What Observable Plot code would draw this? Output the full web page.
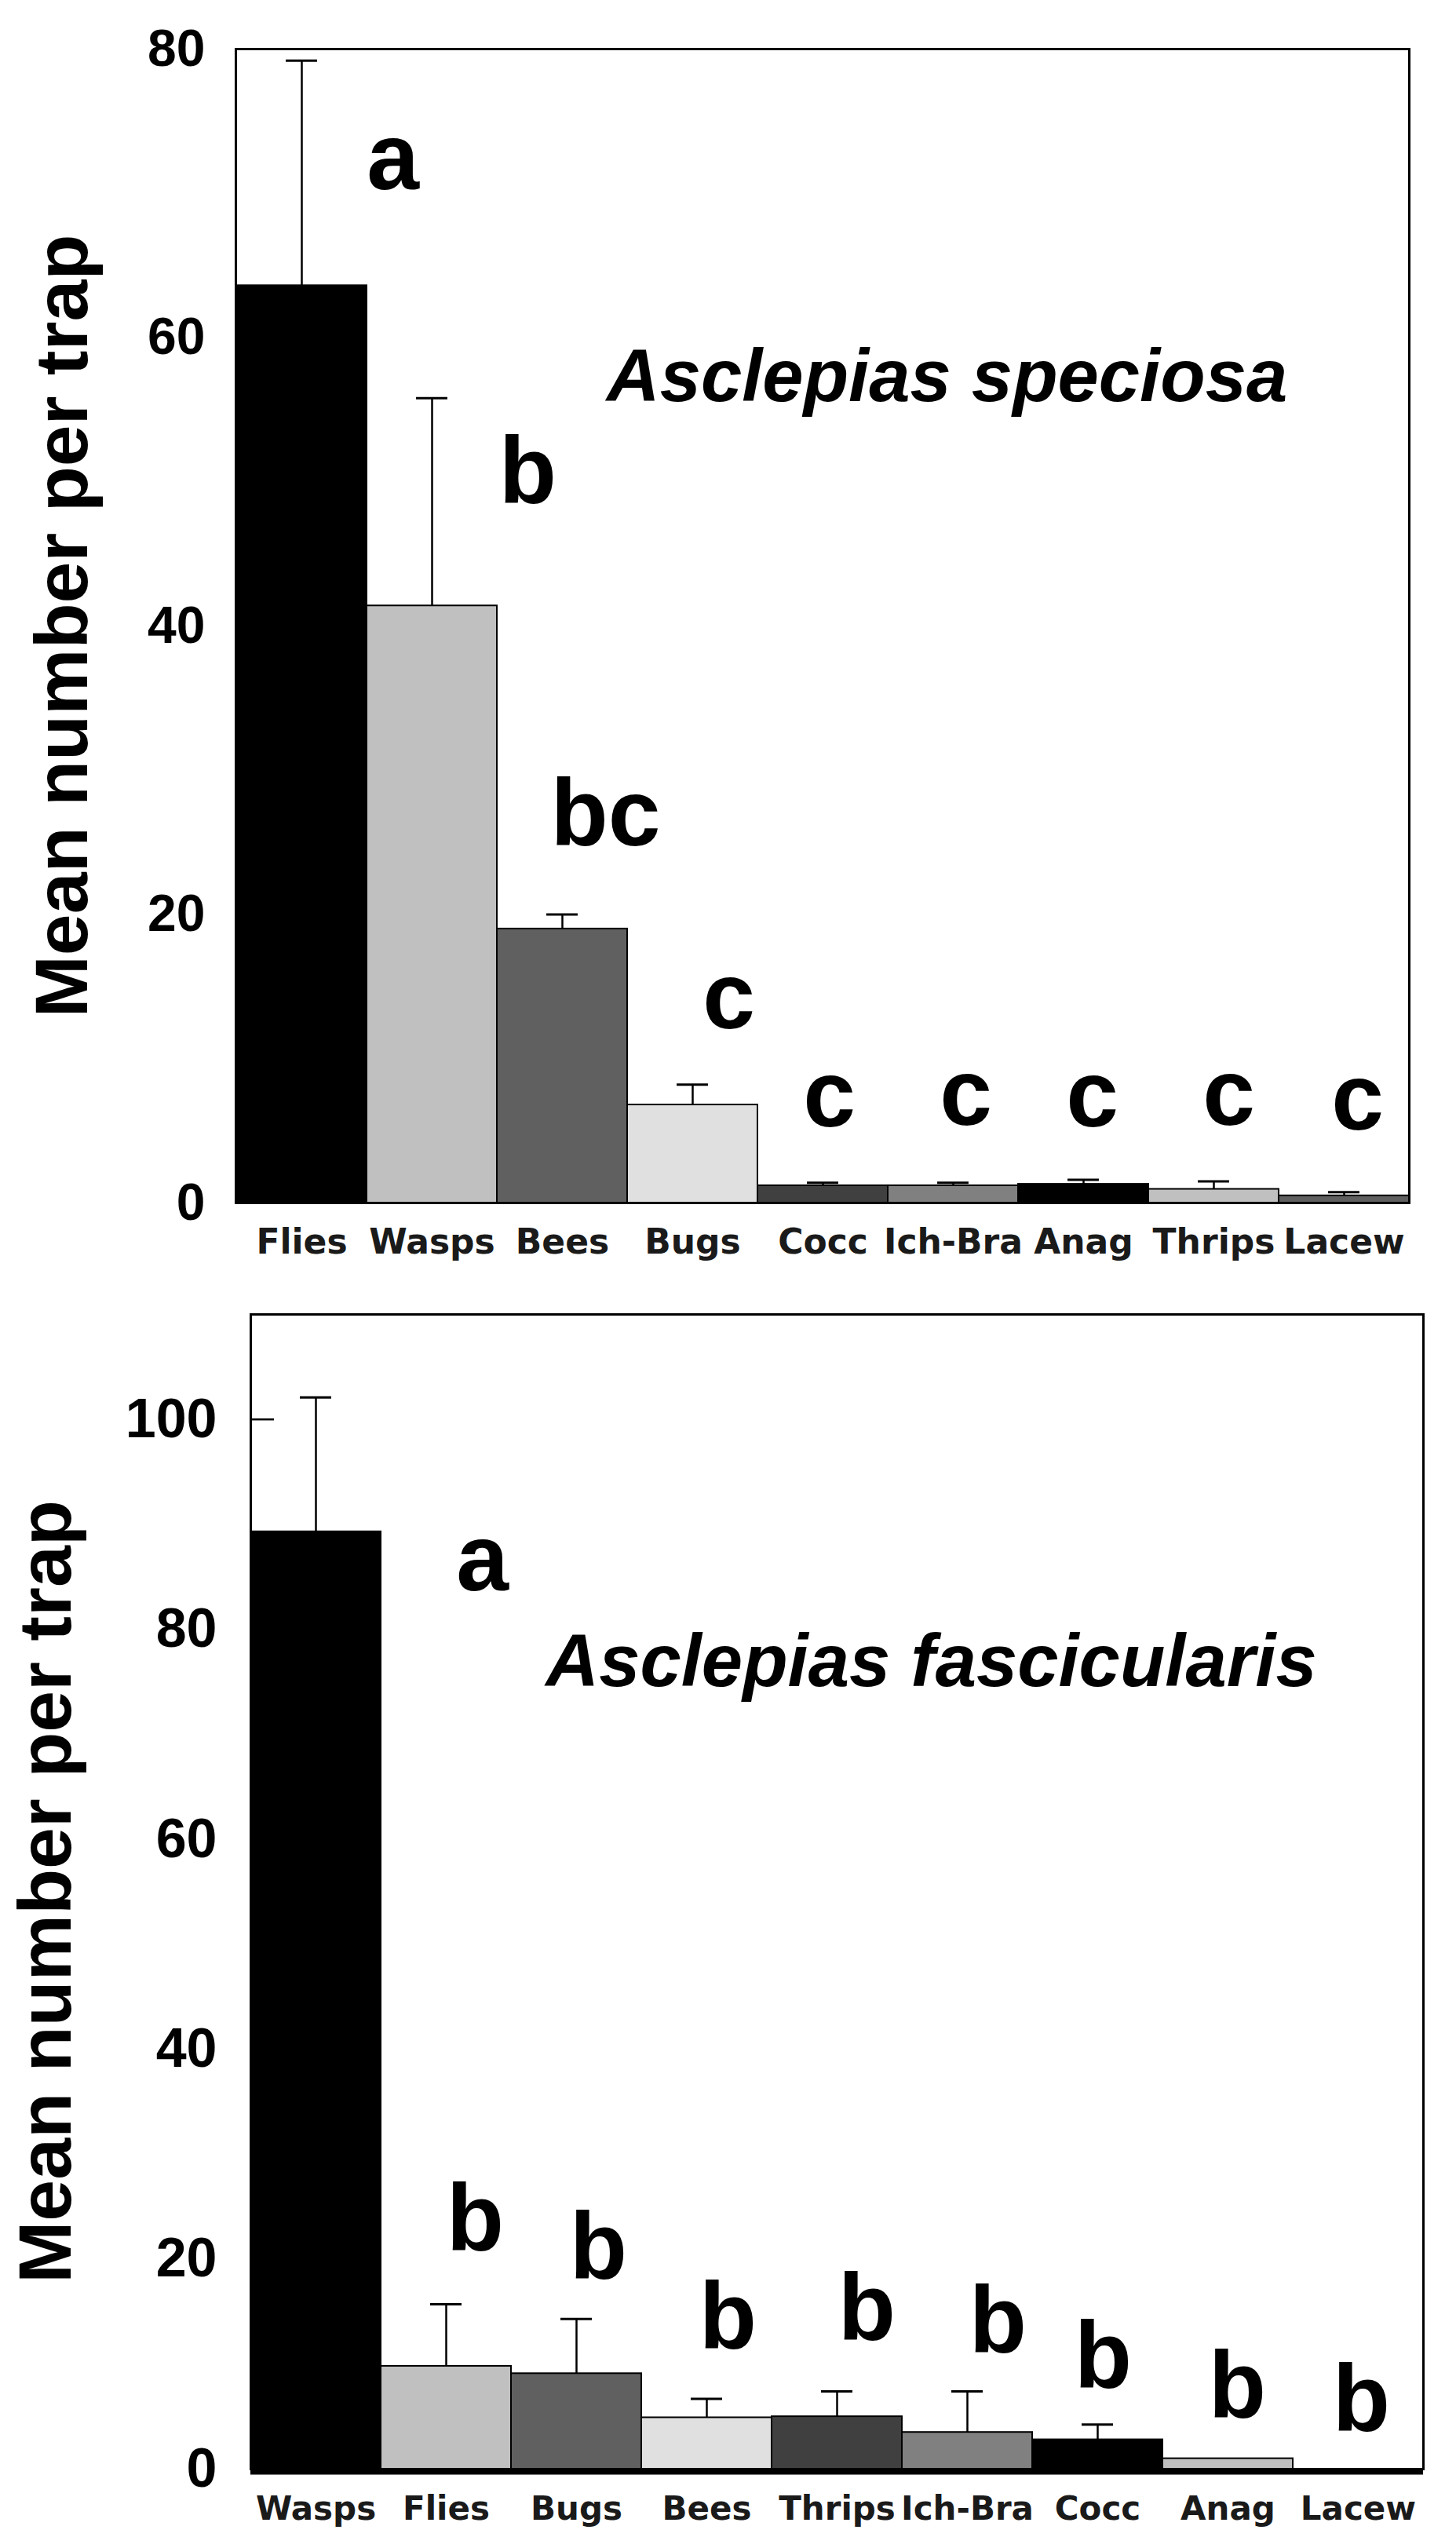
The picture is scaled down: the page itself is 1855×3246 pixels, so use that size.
<!DOCTYPE html>
<html>
<head>
<meta charset="utf-8">
<script src="https://cdn.jsdelivr.net/npm/d3@7"></script>
<script src="https://cdn.jsdelivr.net/npm/@observablehq/plot@0.6"></script>
<style>
  html, body { margin: 0; padding: 0; background: #fff; }
  #charts svg { display: block; }
</style>
</head>
<body>
<div id="charts"></div>
<script>
// ---------- Data: Asclepias speciosa ----------
const speciosaCategories = ["Flies", "Wasps", "Bees", "Bugs", "Cocc", "Ich-Bra", "Anag", "Thrips", "Lacew"];
const speciosaMeans      = [63.6, 41.4, 19.0, 6.8, 1.2, 1.2, 1.3, 0.95, 0.5];
const speciosaErrors     = [15.6, 14.4, 1.0, 1.4, 0.2, 0.2, 0.3, 0.55, 0.25];
const speciosaLetters    = ["a", "b", "bc", "c", "c", "c", "c", "c", "c"];
const speciosaLetterY    = [70.3, 48.5, 24.8, 12.1, 5.3, 5.4, 5.3, 5.4, 5.1];
const speciosaTicks      = [0, 20, 40, 60, 80];

// ---------- Data: Asclepias fascicularis ----------
const fascCategories = ["Wasps", "Flies", "Bugs", "Bees", "Thrips", "Ich-Bra", "Cocc", "Anag", "Lacew"];
const fascMeans      = [89.3, 9.8, 9.1, 4.9, 5.0, 3.5, 2.8, 1.0, 0];
const fascErrors     = [12.8, 5.9, 5.2, 1.8, 2.4, 3.9, 1.45, 0, 0];
const fascLetters    = ["a", "b", "b", "b", "b", "b", "b", "b", "b"];
const fascLetterY    = [83.7, 20.8, 18.1, 11.5, 12.3, 11.1, 7.75, 4.9, 3.6];
const fascTicks      = [0, 20, 40, 60, 80, 100];

// ---------- Styling ----------
const palette = ["#000000", "#c0c0c0", "#606060", "#e0e0e0", "#404040", "#808080"];
const sansFont = "'Liberation Sans', Arial, Helvetica, sans-serif";
const labelFont = "'DejaVu Sans', Verdana, sans-serif";

function panel(cfg) {
  const rows = cfg.categories.map((c, i) => ({
    cat: c,
    mean: cfg.means[i],
    err: cfg.errors[i],
    top: cfg.means[i] + cfg.errors[i],
    letter: cfg.letters[i],
    ly: cfg.letterY[i],
    idx: i
  }));
  const withErr = rows.filter(d => d.err > 0);
  const innerW = cfg.width - cfg.marginLeft - cfg.marginRight;
  const bw = innerW / rows.length;
  const capW = 40;

  const letterMarks = rows.map((d, i) => Plot.text([d], {
    x: "cat", y: "ly", text: "letter",
    dx: cfg.letterDx[i],
    lineAnchor: "bottom", textAnchor: "middle",
    fontSize: 120, fontWeight: "bold", fontFamily: sansFont, fill: "black"
  }));

  return Plot.plot({
    width: cfg.width,
    height: cfg.height,
    marginLeft: cfg.marginLeft,
    marginRight: cfg.marginRight,
    marginTop: cfg.marginTop,
    marginBottom: cfg.marginBottom,
    style: { fontFamily: sansFont, background: "white", color: "black" },
    x: { domain: cfg.categories, padding: 0, axis: null },
    y: { domain: [0, cfg.yMax], axis: null },
    marks: [
      Plot.axisY({
        ticks: cfg.ticks, tickSize: 30, dx: 30, tickPadding: cfg.tickPadding,
        tickFormat: d => String(d), label: null,
        fontSize: cfg.tickFontSize, fontWeight: "bold", fontFamily: sansFont,
        strokeWidth: 2.5
      }),
      Plot.axisX({
        tickSize: 0, tickPadding: cfg.xPadding, label: null,
        fontSize: cfg.xFontSize, fontWeight: "bold", fontFamily: labelFont,
        fill: "#1a1a1a"
      }),
      Plot.barY(rows, {
        x: "cat", y: "mean",
        fill: d => palette[d.idx % palette.length],
        stroke: "black", strokeWidth: 2
      }),
      Plot.ruleX(withErr, { x: "cat", y1: "mean", y2: "top", stroke: "black", strokeWidth: 2.5 }),
      Plot.tickY(withErr, {
        x: "cat", y: "top", stroke: "black", strokeWidth: 3,
        insetLeft: (bw - capW) / 2, insetRight: (bw - capW) / 2
      }),
      Plot.ruleY([0], { stroke: "black", strokeWidth: cfg.baseWidth, dy: cfg.baseDy }),
      Plot.frame({ stroke: "black", strokeWidth: 3 }),
      ...letterMarks,
      Plot.text([cfg.title], {
        x: () => cfg.titleCat, y: () => cfg.titleY, dx: cfg.titleDx,
        lineAnchor: "bottom", textAnchor: "middle",
        fontSize: 94, fontWeight: "bold", fontStyle: "italic", fontFamily: sansFont, fill: "black"
      }),
      Plot.text(["Mean number per trap"], {
        frameAnchor: "left", dx: cfg.yLabelDx, rotate: -90,
        lineAnchor: "bottom", textAnchor: "middle",
        fontSize: 95, fontWeight: "bold", fontFamily: sansFont, fill: "black"
      })
    ]
  });
}

const container = document.getElementById("charts");

container.append(panel({
  categories: speciosaCategories, means: speciosaMeans, errors: speciosaErrors,
  letters: speciosaLetters, letterY: speciosaLetterY,
  letterDx: [116, 122, 55, 46, 8, 16, 11, 19, 17],
  ticks: speciosaTicks, yMax: 80,
  title: "Asclepias speciosa", titleCat: "Ich-Bra", titleY: 55.6, titleDx: -8,
  width: 1855, height: 1640,
  marginLeft: 300, marginRight: 60, marginTop: 62, marginBottom: 108,
  tickPadding: 39, tickFontSize: 66, xPadding: 33, xFontSize: 44,
  baseWidth: 3, baseDy: 0, yLabelDx: -190
}));

container.append(panel({
  categories: fascCategories, means: fascMeans, errors: fascErrors,
  letters: fascLetters, letterY: fascLetterY,
  letterDx: [212, 37, 28, 27, 38, 39, 7, 12, 4],
  ticks: fascTicks, yMax: 110,
  title: "Asclepias fascicularis", titleCat: "Ich-Bra", titleY: 74.6, titleDx: -46,
  width: 1855, height: 1606,
  marginLeft: 319, marginRight: 42, marginTop: 34, marginBottom: 101,
  tickPadding: 43, tickFontSize: 70, xPadding: 35, xFontSize: 42,
  baseWidth: 8, baseDy: 3, yLabelDx: -230
}));
</script>
</body>
</html>
